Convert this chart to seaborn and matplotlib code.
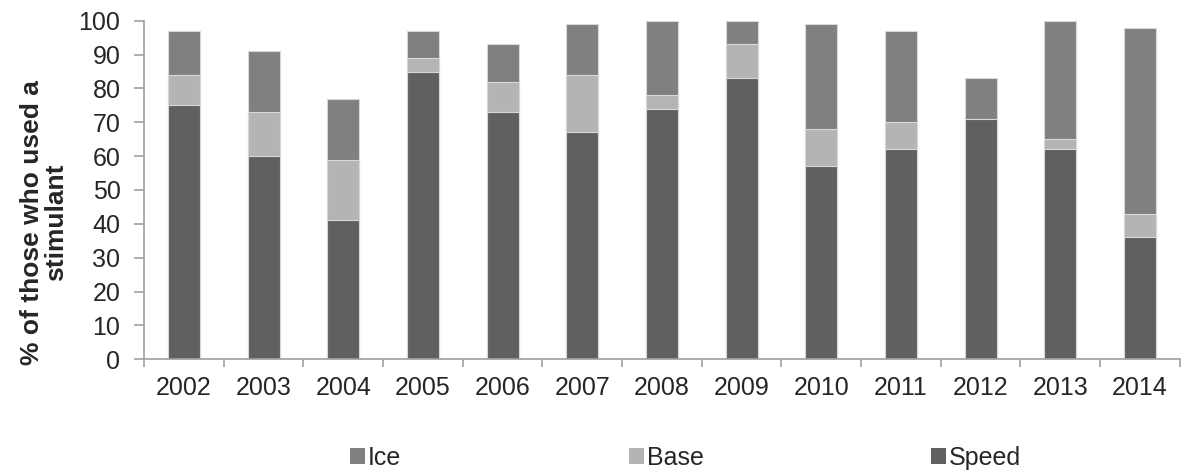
import numpy as np
import pandas as pd
import matplotlib.pyplot as plt
import seaborn as sns
from matplotlib.patches import Patch

# Values (percent of those who used a stimulant)
years = ['2002', '2003', '2004', '2005', '2006', '2007', '2008',
         '2009', '2010', '2011', '2012', '2013', '2014']
speed = [75, 60, 41, 85, 73, 67, 74, 83, 57, 62, 71, 62, 36]
base = [9, 13, 18, 4, 9, 17, 4, 10, 11, 8, 0, 3, 7]
ice = [13, 18, 18, 8, 11, 15, 22, 7, 31, 27, 12, 35, 55]

colors = {'Ice': '#808080', 'Base': '#b4b4b4', 'Speed': '#606060'}

# cumulative heights for the stacked look
df = pd.DataFrame({'year': years, 'Speed': speed, 'Base': base, 'Ice': ice})
df['Speed_top'] = df['Speed']
df['Base_top'] = df['Speed'] + df['Base']
df['Ice_top'] = df['Base_top'] + df['Ice']

sns.set_style('white')
plt.rcParams['font.family'] = ['Liberation Sans', 'DejaVu Sans']

fig, ax = plt.subplots(figsize=(11.81, 4.72), dpi=100)
fig.subplots_adjust(left=0.122, right=0.999, bottom=0.239, top=0.956)

# draw tallest first, lower segments on top
for name in ['Ice', 'Base', 'Speed']:
    sns.barplot(data=df, x='year', y=name + '_top', color=colors[name],
                width=0.4, saturation=1, edgecolor='#d8d8d8', linewidth=0.8,
                ax=ax)

ax.set_xlim(-0.5, 12.5)
ax.set_ylim(0, 100)
ax.set_yticks(np.arange(0, 101, 10))
ax.set_xlabel('')
ax.set_ylabel('% of those who used a\nstimulant', fontsize=19,
              fontweight='bold', linespacing=1.0)
ax.yaxis.set_label_coords(-0.073, 0.405)

for s in ['top', 'right']:
    ax.spines[s].set_visible(False)
for s in ['left', 'bottom']:
    ax.spines[s].set_color('#a0a0a0')
    ax.spines[s].set_linewidth(1.2)

ax.tick_params(axis='y', which='major', length=7, width=1.2, color='#a0a0a0',
               direction='out', left=True, labelsize=18, pad=10)
ax.tick_params(axis='x', which='major', length=0, labelsize=18, pad=12)
ax.set_xticks(np.arange(-0.5, 12.6, 1), minor=True)
ax.tick_params(axis='x', which='minor', length=6, width=1.2, color='#a0a0a0',
               direction='out', bottom=True)

handles = [Patch(facecolor=colors[n], edgecolor='none', label=n)
           for n in ['Ice', 'Base', 'Speed']]
fig.legend(handles=handles, loc='center left', bbox_to_anchor=(0.2964, 0.03),
           ncol=3, frameon=False, fontsize=18, handlelength=0.6,
           handleheight=0.6, handletextpad=0.12, columnspacing=9.1,
           borderpad=0, borderaxespad=0)

plt.savefig('out.png', dpi=100)
